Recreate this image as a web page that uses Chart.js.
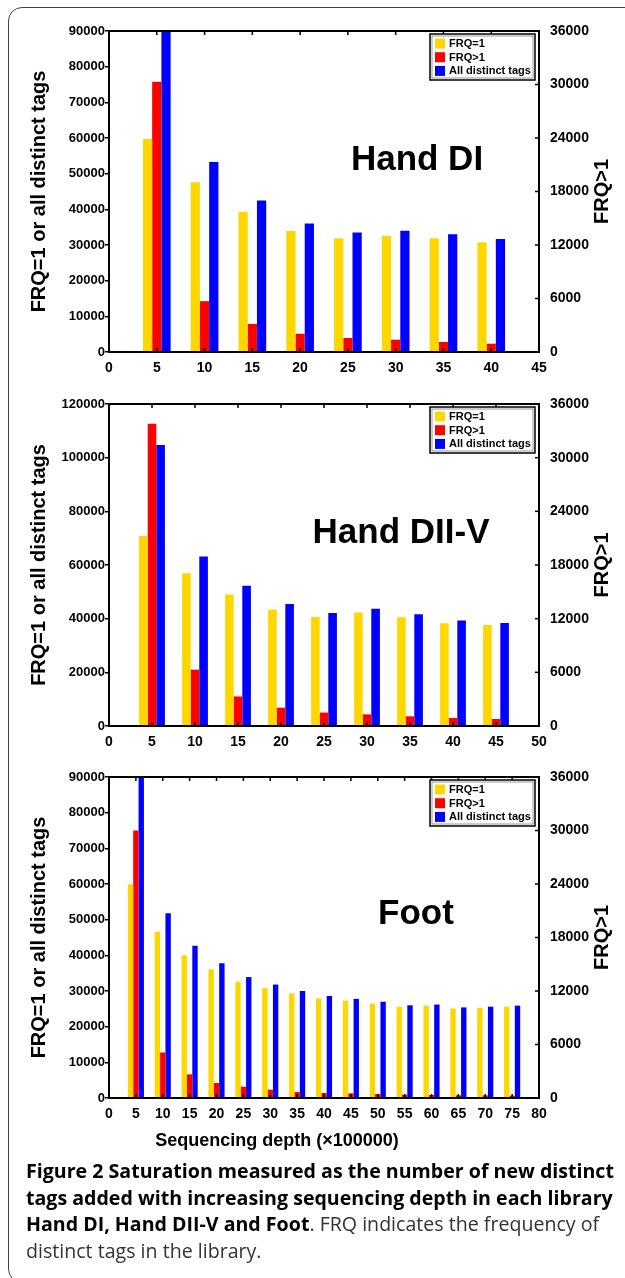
<!DOCTYPE html>
<html><head><meta charset="utf-8">
<script src="https://cdn.jsdelivr.net/npm/chart.js@4.4.1/dist/chart.umd.min.js"></script>
<style>
html,body{margin:0;padding:0;background:#fff;}
body{width:625px;height:1278px;position:relative;overflow:hidden;}
.frame{position:absolute;left:8px;top:7px;width:700px;height:1276px;border:1px solid #444;border-radius:14px;box-sizing:border-box;}
canvas{position:absolute;left:0;}
#xtitle{position:absolute;top:1130px;left:0;width:554px;text-align:center;font:bold 18px "Liberation Sans",Arial,sans-serif;line-height:20px;color:#000;}
#caption{position:absolute;left:26px;top:1158px;font-family:"Open Sans",sans-serif;font-size:19.6px;line-height:26.7px;white-space:nowrap;color:#333;}
#caption b{color:#000;font-weight:700;}
</style></head>
<body>
<div class="frame"></div>
<canvas id="c1" width="625" height="385" style="top:1px"></canvas>
<canvas id="c2" width="625" height="386" style="top:374px"></canvas>
<canvas id="c3" width="625" height="385" style="top:747px"></canvas>
<div id="xtitle">Sequencing depth (×100000)</div>
<div id="caption"><b>Figure 2 Saturation measured as the number of new distinct</b><br><b>tags added with increasing sequencing depth in each library</b><br><b>Hand DI, Hand DII-V and Foot</b>. FRQ indicates the frequency of<br>distinct tags in the library.</div>
<script>
const seriesNames = ['FRQ=1', 'FRQ>1', 'All distinct tags'];
const seriesColors = ['#FFD700', '#FF0000', '#0000FF'];
const panelNames = ['Hand DI', 'Hand DII-V', 'Foot'];
const leftTitle = 'FRQ=1 or all distinct tags';
const rightTitle = 'FRQ>1';

// Hand DI
const depthHandDI = [5, 10, 15, 20, 25, 30, 35, 40];
const frq1HandDI = [59700, 47600, 39300, 33900, 31900, 32600, 31900, 30800];
const frqGt1HandDI = [30300, 5700, 3150, 2050, 1570, 1380, 1120, 930];
const allHandDI = [90000, 53300, 42500, 36000, 33500, 34000, 33000, 31700];

// Hand DII-V
const depthHandDIIV = [5, 10, 15, 20, 25, 30, 35, 40, 45];
const frq1HandDIIV = [70800, 56900, 49000, 43400, 40600, 42300, 40500, 38300, 37600];
const frqGt1HandDIIV = [33800, 6300, 3300, 2050, 1500, 1300, 1080, 900, 780];
const allHandDIIV = [104700, 63200, 52300, 45500, 42100, 43700, 41600, 39300, 38400];

// Foot
const depthFoot = [5, 10, 15, 20, 25, 30, 35, 40, 45, 50, 55, 60, 65, 70, 75];
const frq1Foot = [59900, 46600, 40000, 36100, 32600, 30800, 29300, 27900, 27300, 26500, 25600, 25900, 25100, 25300, 25600];
const frqGt1Foot = [30000, 5100, 2650, 1680, 1270, 940, 670, 560, 520, 450, 370, 340, 300, 300, 260];
const allFoot = [89900, 51800, 42700, 37800, 33900, 31800, 30000, 28600, 27800, 27000, 26000, 26200, 25400, 25600, 25900];

// axis ranges / ticks
const xMaxes = [45, 50, 80];
const xStep = 5;
const leftMaxes = [90000, 120000, 90000];
const leftSteps = [10000, 20000, 10000];
const rightMax = 36000;
const rightStep = 6000;

const FONT = '"Liberation Sans", Arial, sans-serif';
const plainNum = v => String(v);

const decorPlugin = {
  id: 'decor',
  afterDraw(chart, args, opts) {
    const {ctx, chartArea: a, scales} = chart;
    ctx.save();
    ctx.strokeStyle = '#000';
    ctx.lineWidth = 2;
    ctx.strokeRect(a.left, a.top, a.right - a.left, a.bottom - a.top);
    ctx.lineWidth = 1.5;
    const xs = scales.x;
    xs.ticks.forEach(t => {
      const px = xs.getPixelForValue(t.value);
      ctx.beginPath();
      ctx.moveTo(px, a.bottom); ctx.lineTo(px, a.bottom - 4);
      ctx.moveTo(px, a.top); ctx.lineTo(px, a.top + 4);
      ctx.stroke();
    });
    const ys = scales.y1;
    ys.ticks.forEach(t => {
      const py = ys.getPixelForValue(t.value);
      ctx.beginPath();
      ctx.moveTo(a.right, py); ctx.lineTo(a.right - 4, py);
      ctx.stroke();
    });
    // right axis title (reads bottom-to-top)
    ctx.save();
    ctx.translate(opts.rightTitleX, (a.top + a.bottom) / 2);
    ctx.rotate(-Math.PI / 2);
    ctx.fillStyle = '#000';
    ctx.font = 'bold 20px ' + FONT;
    ctx.textAlign = 'center';
    ctx.textBaseline = 'middle';
    ctx.fillText(ys.options.title.text, 0, 0);
    ctx.restore();
    // panel name
    ctx.fillStyle = '#000';
    ctx.font = 'bold 35px ' + FONT;
    ctx.textAlign = 'center';
    ctx.textBaseline = 'middle';
    ctx.fillText(opts.name, opts.nameX, a.top + opts.nameDy);
    // legend
    const bw = 105, bh = 46;
    const bx = a.right - 4 - bw, by = a.top + 3;
    ctx.fillStyle = '#fff';
    ctx.fillRect(bx, by, bw, bh);
    ctx.strokeStyle = '#000';
    ctx.lineWidth = 1.5;
    ctx.strokeRect(bx, by, bw, bh);
    ctx.strokeStyle = '#999';
    ctx.lineWidth = 1;
    ctx.strokeRect(bx + 2, by + 2, bw - 4, bh - 4);
    ctx.font = 'bold 11px ' + FONT;
    ctx.textAlign = 'left';
    chart.data.datasets.forEach((ds, i) => {
      const cy = by + 9.5 + i * 13.7;
      ctx.fillStyle = ds.backgroundColor;
      ctx.fillRect(bx + 5, cy - 5, 10, 10);
      ctx.fillStyle = '#000';
      ctx.fillText(ds.label, bx + 19, cy + 0.5);
    });
    ctx.restore();
  }
};

function makeChart(id, idx, depth, f1, fg1, all, padTop, nameX, nameDy) {
  const toXY = arr => arr.map((v, i) => ({x: depth[i], y: v}));
  return new Chart(document.getElementById(id), {
    type: 'bar',
    data: {
      datasets: [
        {label: seriesNames[0], data: toXY(f1), backgroundColor: seriesColors[0], yAxisID: 'y'},
        {label: seriesNames[1], data: toXY(fg1), backgroundColor: seriesColors[1], yAxisID: 'y1'},
        {label: seriesNames[2], data: toXY(all), backgroundColor: seriesColors[2], yAxisID: 'y'}
      ]
    },
    options: {
      responsive: false,
      animation: false,
      devicePixelRatio: 1,
      layout: {padding: {top: padTop, left: 0, right: 0, bottom: 0}},
      datasets: {bar: {categoryPercentage: idx === 0 ? 0.58 : 0.6, barPercentage: 1.0, borderWidth: 0}},
      plugins: {
        legend: {display: false},
        tooltip: {enabled: false},
        decor: {name: panelNames[idx], nameX: nameX, nameDy: nameDy, rightTitleX: 602}
      },
      scales: {
        x: {
          type: 'linear', min: 0, max: xMaxes[idx], offset: false,
          grid: {display: false, offset: false},
          border: {display: false},
          ticks: {stepSize: xStep, color: '#000', font: {family: FONT, size: 14, weight: 'bold'}, padding: 0, maxRotation: 0, autoSkip: false, callback: plainNum},
          afterFit(s) { s.height = 34; }
        },
        y: {
          position: 'left', min: 0, max: leftMaxes[idx],
          grid: {display: true, drawOnChartArea: false, drawTicks: true, tickLength: 4, color: '#000', lineWidth: 1.5},
          border: {display: false},
          ticks: {stepSize: leftSteps[idx], color: '#000', font: {family: FONT, size: 13, weight: 'bold'}, padding: 0, callback: plainNum},
          title: {display: true, text: leftTitle, color: '#000', font: {family: FONT, size: 20, weight: 'bold'}, padding: {top: 27, bottom: 0}},
          afterFit(s) { s.width = 109; }
        },
        y1: {
          position: 'right', min: 0, max: rightMax,
          grid: {display: false},
          border: {display: false},
          ticks: {stepSize: rightStep, color: '#000', font: {family: FONT, size: 14, weight: 'bold'}, padding: 3, callback: plainNum},
          title: {display: false, text: rightTitle},
          afterFit(s) { s.width = 86; }
        }
      }
    },
    plugins: [decorPlugin]
  });
}

makeChart('c1', 0, depthHandDI, frq1HandDI, frqGt1HandDI, allHandDI, 30, 417, 129);
makeChart('c2', 1, depthHandDIIV, frq1HandDIIV, frqGt1HandDIIV, allHandDIIV, 30, 401, 129.5);
makeChart('c3', 2, depthFoot, frq1Foot, frqGt1Foot, allFoot, 30, 416, 137.5);
</script>
</body></html>
